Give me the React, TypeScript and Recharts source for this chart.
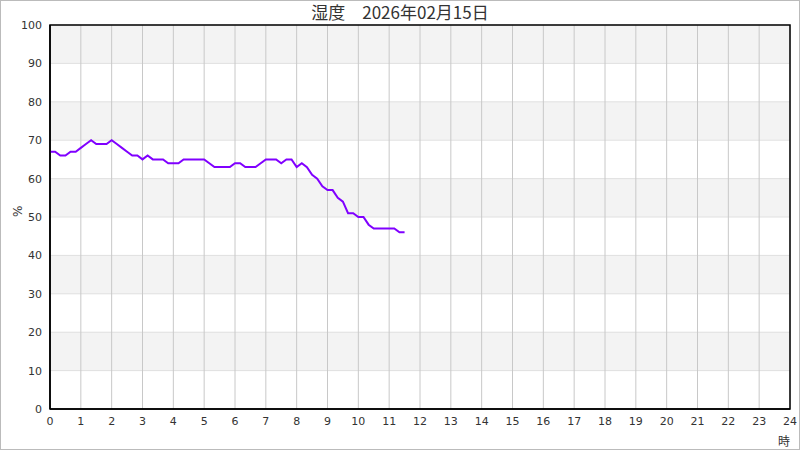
import { LineChart, Line, XAxis, YAxis, CartesianGrid, ReferenceArea } from "recharts";

// humidity readings every 10 minutes from 00:00
const humidity = [
  67, 67, 66, 66, 67, 67, 68, 69, 70, 69, 69, 69,
  70, 69, 68, 67, 66, 66, 65, 66, 65, 65, 65, 64,
  64, 64, 65, 65, 65, 65, 65, 64, 63, 63, 63, 63,
  64, 64, 63, 63, 63, 64, 65, 65, 65, 64, 65, 65,
  63, 64, 63, 61, 60, 58, 57, 57, 55, 54, 51, 51,
  50, 50, 48, 47, 47, 47, 47, 47, 46, 46,
];
const hourTicks = [0, 1, 2, 3, 4, 5, 6, 7, 8, 9, 10, 11, 12, 13, 14, 15, 16, 17, 18, 19, 20, 21, 22, 23, 24];
const pctTicks = [0, 10, 20, 30, 40, 50, 60, 70, 80, 90, 100];

const data = humidity.map((v, i) => ({ t: i / 6, value: v }));

const tickStyle = { fill: "#333", fontSize: 11, fontFamily: "DejaVu Sans" };

export default function App() {
  return (
    <div style={{
      position: "absolute", left: 0, top: 0, width: 800, height: 450,
      boxSizing: "border-box", border: "1px solid #bbb", background: "#fff",
    }}>
      <div style={{
        position: "absolute", left: 0, width: 798, top: -2, textAlign: "center",
        fontFamily: "Noto Sans CJK JP", fontSize: 17, color: "#333",
      }}>
        湿度　2026年02月15日
      </div>
      <LineChart width={798} height={448} data={data} margin={{ top: 24, right: 9, bottom: 10, left: 0 }}>
        {/* alternating bands, top band (90-100) grey */}
        <CartesianGrid vertical={false} stroke="#e0e0e0" fill="#fff" horizontalFill={["#f3f3f3", "#ffffff"]} fillOpacity={1} />
        <CartesianGrid horizontal={false} stroke="#c8c8c8" />
        <ReferenceArea x1={0} x2={24} y1={0} y2={100} fill="none" stroke="#000" strokeWidth={1.5} />
        <XAxis
          dataKey="t" type="number" domain={[0, 24]} ticks={hourTicks} interval={0}
          height={30} tickLine={false} tickSize={0} tickMargin={8} tick={tickStyle}
          axisLine={{ stroke: "#000", strokeWidth: 1.5 }}
          label={{ value: "時", position: "insideBottomRight", offset: -8, dx: -8, dy: -1, fill: "#333", fontSize: 12, fontFamily: "Noto Sans CJK JP" }}
        />
        <YAxis
          type="number" domain={[0, 100]} ticks={pctTicks} interval={0}
          width={49} tickLine={false} tickSize={0} tickMargin={8} tick={tickStyle}
          axisLine={{ stroke: "#000", strokeWidth: 1.5 }}
          label={{ value: "%", angle: -90, position: "insideLeft", offset: 17, fill: "#333", fontSize: 12, fontFamily: "DejaVu Sans" }}
        />
        <Line dataKey="value" type="linear" stroke="#8000ff" strokeWidth={2} dot={false} isAnimationActive={false} />
      </LineChart>
    </div>
  );
}
